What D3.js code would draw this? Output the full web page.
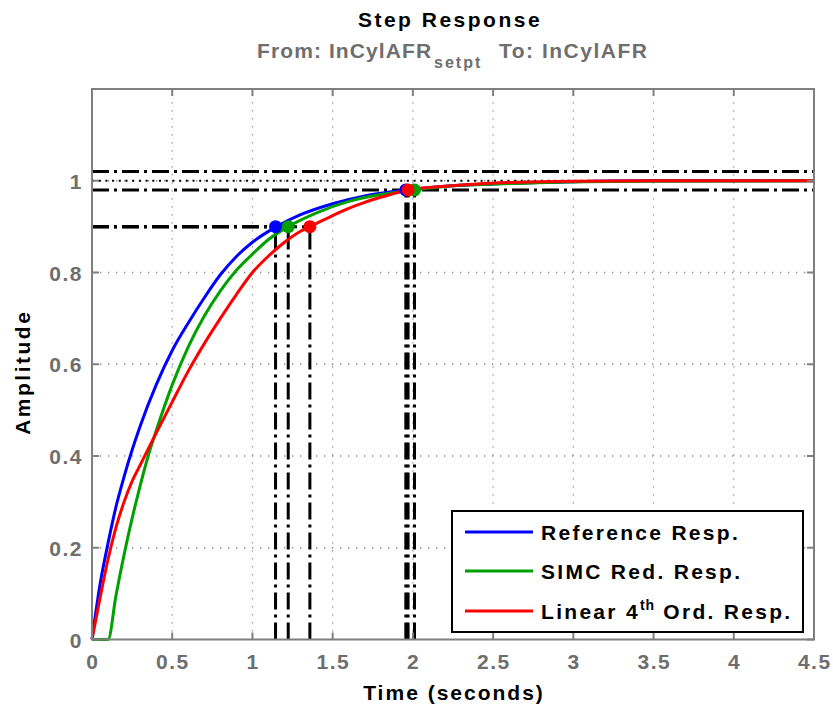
<!DOCTYPE html>
<html>
<head>
<meta charset="utf-8">
<script src="https://cdn.jsdelivr.net/npm/d3@7"></script>
<style>
  body { margin: 0; background: #fff; }
  svg text { font-family: "Liberation Sans", Arial, sans-serif; font-weight: bold; }
</style>
</head>
<body>
<svg id="chart" width="833" height="713"></svg>
<script>
// ---- data ----
const xTicks = [0, 0.5, 1, 1.5, 2, 2.5, 3, 3.5, 4, 4.5];
const xTickLabels = ["0", "0.5", "1", "1.5", "2", "2.5", "3", "3.5", "4", "4.5"];
const yTicks = [0, 0.2, 0.4, 0.6, 0.8, 1];
const yTickLabels = ["0", "0.2", "0.4", "0.6", "0.8", "1"];

const seriesNames = ["Reference Resp.", "SIMC Red. Resp.", "Linear 4th Ord. Resp."];
const seriesColors = ["#0000ff", "#00a000", "#ff0000"];

const tRef = [0, 0.05, 0.1, 0.15, 0.2, 0.25, 0.3, 0.4, 0.5, 0.6, 0.7, 0.8, 0.9, 1.0, 1.15, 1.3, 1.5, 1.7, 1.96, 2.2, 2.5, 3.0, 3.5, 4.5];
const yRef = [0, 0.12, 0.21, 0.29, 0.355, 0.413, 0.465, 0.555, 0.63, 0.69, 0.745, 0.795, 0.835, 0.866, 0.90, 0.926, 0.95, 0.967, 0.98, 0.988, 0.993, 0.998, 1.0, 1.0];

const tSimc = [0, 0.1, 0.15, 0.2, 0.25, 0.3, 0.35, 0.4, 0.5, 0.6, 0.7, 0.8, 0.9, 1.0, 1.1, 1.223, 1.4, 1.6, 1.8, 2.01, 2.3, 2.6, 2.9, 3.5, 4.5];
const ySimc = [0, 0, 0.097, 0.185, 0.264, 0.335, 0.40, 0.455, 0.555, 0.638, 0.705, 0.76, 0.805, 0.84, 0.872, 0.90, 0.93, 0.955, 0.97, 0.98, 0.99, 0.994, 0.997, 0.999, 1.0];

const tLin = [0, 0.05, 0.1, 0.15, 0.2, 0.25, 0.3, 0.4, 0.5, 0.6, 0.7, 0.8, 0.9, 1.0, 1.1, 1.2, 1.3, 1.358, 1.5, 1.6, 1.7, 1.8, 1.9, 1.97, 2.2, 2.4, 2.6, 2.8, 3.0, 3.5, 4.5];
const yLin = [0, 0.09, 0.175, 0.245, 0.30, 0.345, 0.38, 0.45, 0.518, 0.585, 0.645, 0.70, 0.752, 0.80, 0.836, 0.866, 0.89, 0.90, 0.924, 0.94, 0.953, 0.964, 0.974, 0.98, 0.988, 0.993, 0.996, 0.998, 0.999, 1.0, 1.0];

const riseTimes = [1.144, 1.223, 1.358];
const settleTimes = [1.956, 2.01, 1.97];
const riseLevel = 0.9;
const settleBand = [0.98, 1.02];
const finalValue = 1.0;

// ---- layout ----
const svg = d3.select("#chart");
const L = 92, R = 814, T = 89, B = 639.5;
const x = d3.scaleLinear().domain([0, 4.5]).range([L, R]);
const y = d3.scaleLinear().domain([0, 1.2]).range([B, T]);
const gray = "#7f7f7f";
const labelGray = "#6e6e6e";
const FS = 21;

// grid
const grid = svg.append("g");
grid.selectAll("line.gx").data(xTicks.slice(1, -1)).join("line")
  .attr("x1", d => x(d)).attr("x2", d => x(d)).attr("y1", B).attr("y2", T)
  .attr("stroke", "#8a8a8a").attr("stroke-width", 1.3).attr("stroke-dasharray", "1.3,6.7");
grid.selectAll("line.gy").data(yTicks.slice(1)).join("line")
  .attr("x1", L).attr("x2", R).attr("y1", d => y(d)).attr("y2", d => y(d))
  .attr("stroke", "#8a8a8a").attr("stroke-width", 1.3).attr("stroke-dasharray", "1.3,6.7");

// reference lines
const dashDot = "17,5,3,5";
const refs = svg.append("g").attr("stroke", "#000").attr("fill", "none");
refs.selectAll("line.band").data(settleBand).join("line")
  .attr("x1", x(0)).attr("x2", x(4.5)).attr("y1", d => y(d)).attr("y2", d => y(d))
  .attr("stroke-width", 3).attr("stroke-dasharray", dashDot);
refs.append("line")
  .attr("x1", x(0)).attr("x2", x(4.5)).attr("y1", y(finalValue)).attr("y2", y(finalValue))
  .attr("stroke-width", 2.2).attr("stroke-dasharray", "2,4.7");
refs.selectAll("line.riseH").data(riseTimes).join("line")
  .attr("x1", x(0)).attr("x2", d => x(d)).attr("y1", y(riseLevel)).attr("y2", y(riseLevel))
  .attr("stroke-width", 3).attr("stroke-dasharray", dashDot);
refs.selectAll("line.riseV").data(riseTimes).join("line")
  .attr("x1", d => x(d)).attr("x2", d => x(d)).attr("y1", y(0)).attr("y2", y(riseLevel))
  .attr("stroke-width", 3).attr("stroke-dasharray", dashDot);
refs.selectAll("line.setV").data(settleTimes).join("line")
  .attr("x1", d => x(d)).attr("x2", d => x(d)).attr("y1", y(0)).attr("y2", y(settleBand[0]))
  .attr("stroke-width", 3).attr("stroke-dasharray", dashDot);

// curves
const line = d3.line().x(d => x(d[0])).y(d => y(d[1])).curve(d3.curveMonotoneX);
const curves = [d3.zip(tRef, yRef), d3.zip(tSimc, ySimc), d3.zip(tLin, yLin)];
curves.forEach((c, i) => {
  svg.append("path").datum(c).attr("d", line)
    .attr("fill", "none").attr("stroke", seriesColors[i]).attr("stroke-width", 3);
});

// markers
const markerData = [];
riseTimes.forEach((t, i) => markerData.push({ t, v: riseLevel, c: seriesColors[i] }));
[0, 1, 2].forEach(i => markerData.push({ t: settleTimes[i], v: settleBand[0], c: seriesColors[i] }));
svg.append("g").selectAll("circle").data(markerData).join("circle")
  .attr("cx", d => x(d.t)).attr("cy", d => y(d.v)).attr("r", 6.5)
  .attr("fill", d => d.c);

// frame
svg.append("rect").attr("x", L).attr("y", T).attr("width", R - L).attr("height", B - T)
  .attr("fill", "none").attr("stroke", gray).attr("stroke-width", 2);

// ticks (inward, all four sides)
const tk = svg.append("g").attr("stroke", gray).attr("stroke-width", 2);
xTicks.forEach(v => {
  tk.append("line").attr("x1", x(v)).attr("x2", x(v)).attr("y1", B).attr("y2", B - 7);
  tk.append("line").attr("x1", x(v)).attr("x2", x(v)).attr("y1", T).attr("y2", T + 7);
});
yTicks.forEach(v => {
  tk.append("line").attr("x1", L).attr("x2", L + 7).attr("y1", y(v)).attr("y2", y(v));
  tk.append("line").attr("x1", R).attr("x2", R - 7).attr("y1", y(v)).attr("y2", y(v));
});

// tick labels
svg.append("g").selectAll("text").data(xTicks).join("text")
  .attr("x", d => x(d) + 0.75).attr("y", B + 29).attr("text-anchor", "middle")
  .attr("font-size", FS).attr("letter-spacing", 1.5).attr("fill", labelGray).text((d, i) => xTickLabels[i]);
svg.append("g").selectAll("text").data(yTicks).join("text")
  .attr("x", L - 9).attr("y", d => y(d) + 8).attr("text-anchor", "end")
  .attr("font-size", FS).attr("letter-spacing", 1.5).attr("fill", labelGray).text((d, i) => yTickLabels[i]);

// axis labels
svg.append("text").attr("x", 454).attr("y", 700).attr("text-anchor", "middle")
  .attr("font-size", FS).attr("letter-spacing", 2).attr("fill", "#000").text("Time (seconds)");
svg.append("text").attr("transform", `translate(30,${(T + B) / 2 + 8}) rotate(-90)`)
  .attr("text-anchor", "middle").attr("font-size", FS).attr("letter-spacing", 2.5).attr("fill", "#000").text("Amplitude");

// titles
svg.append("text").attr("x", 450).attr("y", 27).attr("text-anchor", "middle")
  .attr("font-size", FS).attr("letter-spacing", 2.5).attr("fill", "#000").text("Step Response");
const sub = svg.append("text").attr("y", 58).attr("font-size", FS).attr("fill", labelGray);
sub.append("tspan").attr("x", 257).attr("letter-spacing", 1.1).text("From: InCylAFR");
sub.append("tspan").attr("x", 434).attr("dy", 10).attr("font-size", 16).attr("letter-spacing", 2).text("setpt");
sub.append("tspan").attr("x", 499).attr("dy", -10).attr("letter-spacing", 1.5).text("To: InCylAFR");

// legend
const lg = svg.append("g");
lg.append("rect").attr("x", 452).attr("y", 511).attr("width", 351).attr("height", 121)
  .attr("fill", "#fff").attr("stroke", "#000").attr("stroke-width", 2);
const rowsY = [532, 571, 611];
seriesNames.forEach((n, i) => {
  lg.append("line").attr("x1", 465).attr("x2", 533).attr("y1", rowsY[i]).attr("y2", rowsY[i])
    .attr("stroke", seriesColors[i]).attr("stroke-width", 3);
  const t = lg.append("text").attr("x", 541).attr("y", rowsY[i] + 8).attr("font-size", FS)
    .attr("letter-spacing", 2.3).attr("fill", "#000");
  if (i === 2) {
    t.append("tspan").text("Linear 4");
    t.append("tspan").attr("dy", -9).attr("font-size", 14).attr("letter-spacing", 1).text("th");
    t.append("tspan").attr("dy", 9).text(" Ord. Resp.");
  } else {
    t.text(n);
  }
});
</script>
</body>
</html>
